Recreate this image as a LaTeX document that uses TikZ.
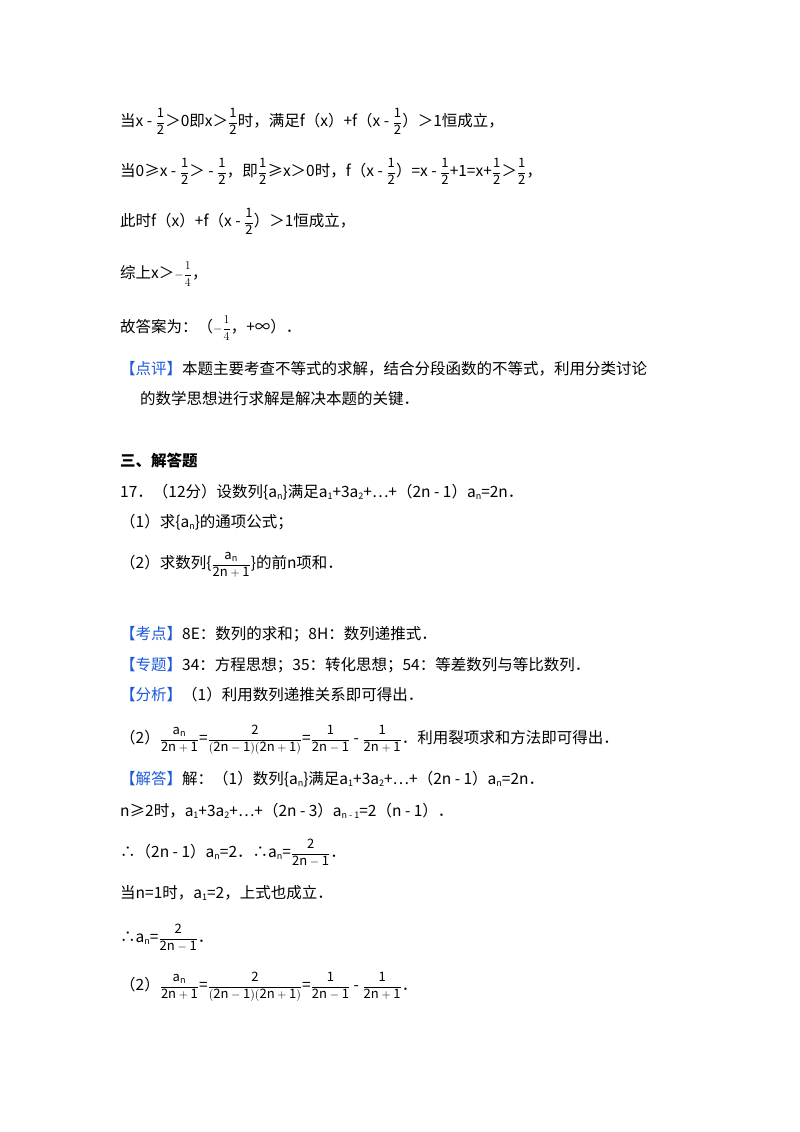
\documentclass[tikz,border=0pt]{standalone}
\usepackage{amsmath}
\usepackage{fontspec}
\setmainfont{Noto Sans CJK SC}
\newcommand{\sbs}[1]{\raisebox{-2.5pt}{\fontsize{9}{9}\selectfont #1}}
\newcommand{\fr}[2]{{\fontsize{13}{15}\selectfont$\dfrac{\mathrm{#1}}{\mathrm{#2}}$}}
\definecolor{hdr}{RGB}{30,90,215}
\begin{document}
\begin{tikzpicture}[x=1pt,y=-1pt]
\useasboundingbox (0,0) rectangle (800,1132);
\tikzset{ln/.style={anchor=base west,inner sep=0pt,font=\fontsize{15.5}{18}\selectfont}}
\newcommand{\hb}[1]{{\color{hdr}【#1】}}
\node[ln] (l1) at (120,126) {当x - \fr{1}{2}＞0即x＞\fr{1}{2}时，满足f（x）+f（x - \fr{1}{2}）＞1恒成立，};
\node[ln] (l2) at (120,176) {当0≥x - \fr{1}{2}＞ - \fr{1}{2}，即\fr{1}{2}≥x＞0时，f（x - \fr{1}{2}）=x - \fr{1}{2}+1=x+\fr{1}{2}＞\fr{1}{2}，};
\node[ln] (l3) at (120,226) {此时f（x）+f（x - \fr{1}{2}）＞1恒成立，};
\node[ln] (l4) at (120,278) {综上x＞{\fontsize{13}{15}\selectfont$-\dfrac{1}{4}$}，};
\node[ln] (l5) at (120,332) {故答案为：（{\fontsize{13}{15}\selectfont$-\dfrac{1}{4}$}，+∞）．};
\node[ln] (l6) at (120,374) {\hb{点评}本题主要考查不等式的求解，结合分段函数的不等式，利用分类讨论};
\node[ln] (l7) at (140,404) {的数学思想进行求解是解决本题的关键．};
\node[ln,font=\fontsize{15.5}{18}\selectfont\bfseries] (l8) at (120,466) {三、解答题};
\node[ln] (l9) at (120,497) {17．（12分）设数列\{a\sbs{n}\}满足a\sbs{1}+3a\sbs{2}+…+（2n - 1）a\sbs{n}=2n．};
\node[ln] (l10) at (120,527) {（1）求\{a\sbs{n}\}的通项公式；};
\node[ln] (l11) at (120,568) {（2）求数列\{\fr{a_n}{2n+1}\}的前n项和．};
\node[ln] (l12) at (120,639) {\hb{考点}8E：数列的求和；8H：数列递推式．};
\node[ln] (l13) at (120,670) {\hb{专题}34：方程思想；35：转化思想；54：等差数列与等比数列．};
\node[ln] (l14) at (120,700) {\hb{分析}（1）利用数列递推关系即可得出．};
\node[ln] (l15) at (120,743) {（2）\fr{a_n}{2n+1}=\fr{2}{(2n-1)(2n+1)}=\fr{1}{2n-1} - \fr{1}{2n+1}．利用裂项求和方法即可得出．};
\node[ln] (l16) at (120,784) {\hb{解答}解：（1）数列\{a\sbs{n}\}满足a\sbs{1}+3a\sbs{2}+…+（2n - 1）a\sbs{n}=2n．};
\node[ln] (l17) at (120,816) {n≥2时，a\sbs{1}+3a\sbs{2}+…+（2n - 3）a\sbs{n - 1}=2（n - 1）．};
\node[ln] (l18) at (120,857) {∴（2n - 1）a\sbs{n}=2．∴a\sbs{n}=\fr{2}{2n-1}．};
\node[ln] (l19) at (120,898) {当n=1时，a\sbs{1}=2，上式也成立．};
\node[ln] (l20) at (120,942) {∴a\sbs{n}=\fr{2}{2n-1}．};
\node[ln] (l21) at (120,990) {（2）\fr{a_n}{2n+1}=\fr{2}{(2n-1)(2n+1)}=\fr{1}{2n-1} - \fr{1}{2n+1}．};
\end{tikzpicture}
\end{document}
